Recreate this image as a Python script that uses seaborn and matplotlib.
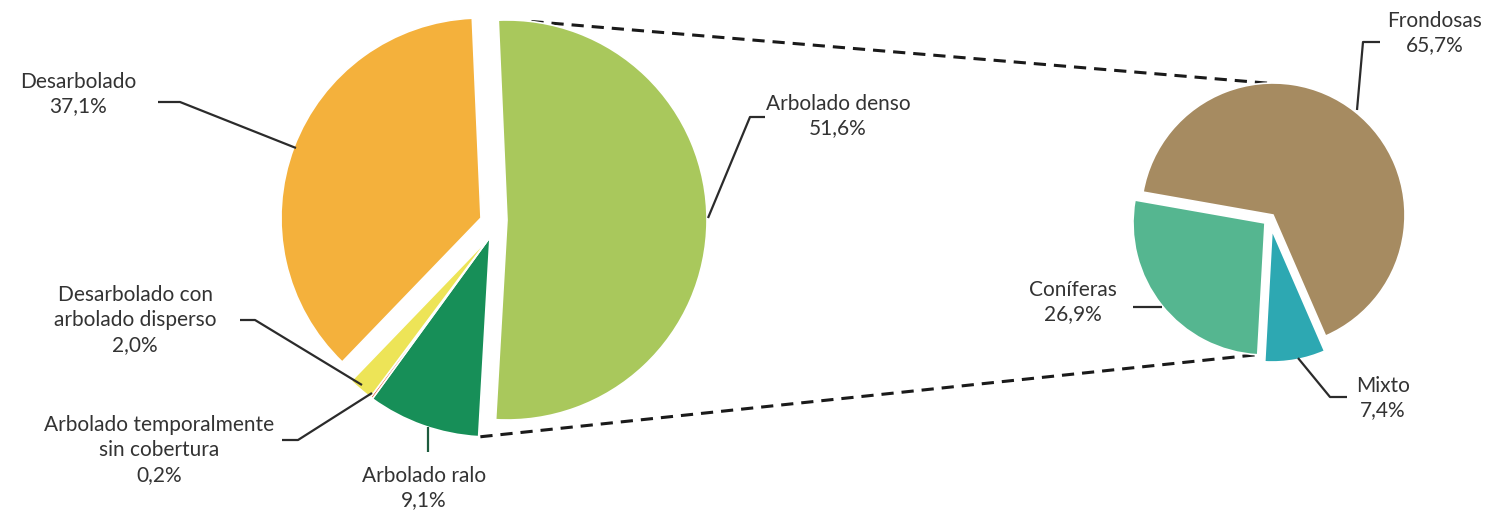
"""
Superficie forestal: pie of land cover with a second pie breaking down
the 'Arbolado denso' slice by forest type.
"""
import numpy as np
import seaborn as sns
import matplotlib
matplotlib.use("Agg")
import matplotlib.pyplot as plt

# data
land_labels = ["Arbolado denso", "Arbolado ralo", "Arbolado temporalmente\nsin cobertura",
               "Desarbolado con\narbolado disperso", "Desarbolado"]
land_values = [51.6, 9.1, 0.2, 2.0, 37.1]
land_colors = ["#a9c85c", "#178f58", "#e4572b", "#ede457", "#f4b13c"]

forest_labels = ["Frondosas", "Mixto", "Coníferas"]
forest_values = [65.7, 7.4, 26.9]
forest_colors = ["#a68b61", "#2da8b2", "#55b690"]

# layout (pixel space, y measured from the top)
W, H = 1503, 515
left_c, left_r, left_start = (490, 237), 200, 92.5
left_shift = [(17, -17), (0, 0), (0, 0), (0, 0), (-9, -19)]
right_c, right_r, right_start = (1273, 215), 132, 170
right_shift = [(0, 0), (-1, 15), (-8, 8)]

land_text = [(838, 116), (424, 488), (159, 450), (135, 320), (78, 94)]
land_leaders = [[(765, 117), (750, 117), (708, 218)],
                [(428, 427), (428, 452)],
                [(282, 440), (298, 440), (372, 393)],
                [(240, 320), (255, 320), (362, 385)],
                [(158, 102), (180, 102), (296, 148)]]
forest_text = [(1435, 33), (1383, 398), (1073, 302)]
forest_leaders = [[(1380, 42), (1363, 42), (1357, 110)],
                  [(1347, 397), (1330, 397), (1298, 358)],
                  [(1133, 307), (1162, 307)]]


def fmt(v):
    return f"{v:.1f}%".replace(".", ",")


def yy(p):
    return H - p


def draw_pie(ax, values, colors, center, radius, start, shifts):
    wedges, _ = ax.pie(values, colors=colors, startangle=start, counterclock=False,
                       center=(center[0], yy(center[1])), radius=radius,
                       wedgeprops=dict(linewidth=1.2, edgecolor="white"))
    for w, (dx, dy) in zip(wedges, shifts):
        w.set_center((center[0] + dx, yy(center[1]) - dy))
    return wedges


def point_on(wedge, angle):
    cx, cy = wedge.center
    a = np.deg2rad(angle)
    return cx + wedge.r * np.cos(a), cy + wedge.r * np.sin(a)


def main():
    sns.set_theme(style="white")
    plt.rcParams["font.family"] = ["Lato", "DejaVu Sans"]

    fig = plt.figure(figsize=(W / 100, H / 100), dpi=100)
    ax = fig.add_axes([0, 0, 1, 1])

    lw = draw_pie(ax, land_values, land_colors, left_c, left_r, left_start, left_shift)
    rw = draw_pie(ax, forest_values, forest_colors, right_c, right_r, right_start, right_shift)

    ax.set_xlim(0, W)
    ax.set_ylim(0, H)
    ax.set_aspect("equal")
    ax.axis("off")

    # dashed connectors between the denso slice and the breakdown pie
    bottom_angle = left_start - 360 * land_values[0] / 100
    split_angle = right_start - 360 * (forest_values[0] + forest_values[1]) / 100
    p1 = point_on(lw[0], 83)
    p2 = point_on(rw[0], 92.5)
    p3 = point_on(lw[1], bottom_angle + 0.5)
    p4 = point_on(rw[2], split_angle - 0.5)
    for a, b in [(p1, p2), (p3, p4)]:
        ax.plot([a[0], b[0]], [a[1], b[1]], color="#1a1a1a", lw=2.2,
                linestyle=(0, (4, 2.6)), zorder=0)

    # labels with leader lines
    txt = "#333333"
    for lab, val, pos, lead in zip(land_labels + forest_labels,
                                   land_values + forest_values,
                                   land_text + forest_text,
                                   land_leaders + forest_leaders):
        ax.text(pos[0], yy(pos[1]), f"{lab}\n{fmt(val)}", ha="center", va="center",
                fontsize=15, color=txt, linespacing=1.3)
        xs = [p[0] for p in lead]
        ys = [yy(p[1]) for p in lead]
        col = "#1d5c3e" if lab == "Arbolado ralo" else "#2b2b2b"
        ax.plot(xs, ys, color=col, lw=1.6, solid_capstyle="butt", zorder=3)

    fig.savefig("out.png", dpi=100, facecolor="white")


if __name__ == "__main__":
    main()
